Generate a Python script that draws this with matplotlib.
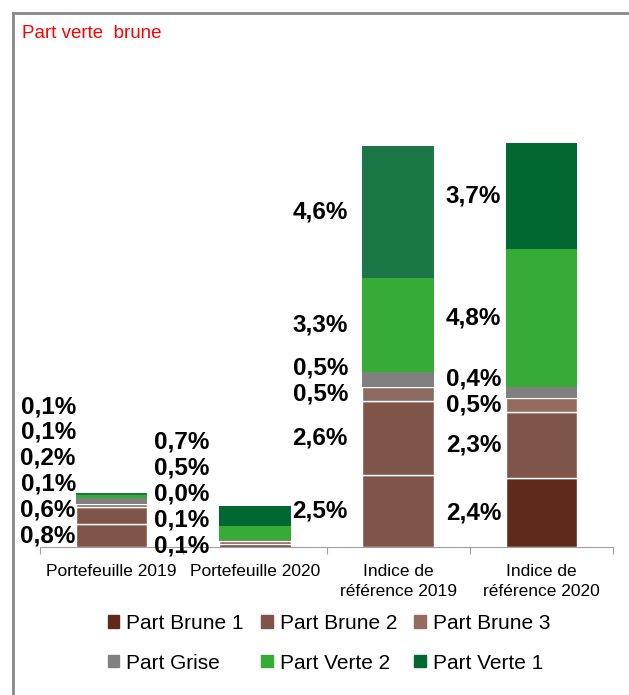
import numpy as np
import matplotlib
matplotlib.use("Agg")
import matplotlib.pyplot as plt
from matplotlib.lines import Line2D
from matplotlib.patches import Patch

plt.rcParams["font.family"] = ["Liberation Sans", "DejaVu Sans"]

categories = ["Portefeuille 2019", "Portefeuille 2020", "Indice de\nréférence 2019", "Indice de\nréférence 2020"]
series = ["Part Brune 1", "Part Brune 2", "Part Brune 3", "Part Grise", "Part Verte 2", "Part Verte 1"]

brune1 = [0.8, 0.1, 2.5, 2.4]
brune2 = [0.6, 0.1, 2.6, 2.3]
brune3 = [0.1, 0.0, 0.5, 0.5]
grise = [0.2, 0.03, 0.5, 0.4]
verte2 = [0.1, 0.5, 3.3, 4.8]
verte1 = [0.1, 0.7, 4.6, 3.7]

values = np.array([brune1, brune2, brune3, grise, verte2, verte1])

legend_colors = ["#5f2a1a", "#7f5549", "#936b5f", "#808080", "#36ab35", "#006830"]
# 2019 bars are drawn with slightly different shades in the source
colors_2019 = ["#7f5549", "#7f5549", "#8c6a60", "#808080", "#36ab35", "#1c7747"]
bar_colors = [colors_2019, legend_colors, colors_2019, legend_colors]
label_gap = [0.0, 0.07, 0.1, 0.03]

fig = plt.figure(figsize=(6.29, 6.95), dpi=100)
ax = fig.add_axes([40 / 629, 148 / 695, 573 / 629, 507 / 695])

x = np.arange(len(categories))
width = 0.5
bottoms = np.zeros(len(categories))
for i in range(len(series)):
    for j in range(len(categories)):
        edge = "white" if i < 3 else "none"
        ax.bar(x[j], values[i, j], width, bottom=bottoms[j], color=bar_colors[j][i],
               edgecolor=edge, linewidth=1.0)
    bottoms += values[i]

# labels left of each bar, spread so they do not overlap
min_gap = 0.9
for j in range(len(categories)):
    last = -10
    base = 0
    for i in range(len(series)):
        v = values[i, j]
        center = base + v / 2
        base += v
        if v == 0:
            continue
        y = max(center, last + min_gap)
        last = y
        txt = f"{v:.1f}".replace(".", ",") + "%"
        ax.text(x[j] - width / 2 - label_gap[j], y, txt, ha="right", va="center",
                fontsize=17.5, fontweight="bold", color="black")

ax.set_xlim(-0.5, 3.5)
ax.set_ylim(0, 17.7)
ax.set_yticks([])
for s in ["top", "right", "left"]:
    ax.spines[s].set_visible(False)
ax.spines["bottom"].set_color("#a0a0a0")
ax.set_xticks(np.arange(-0.5, 4, 1))
ax.set_xticklabels([])
ax.tick_params(axis="x", length=5, color="#a0a0a0")
for j, c in enumerate(categories):
    ax.text(x[j], -0.58, c, ha="center", va="top", fontsize=12.5, linespacing=1.45)

fig.text(22 / 629, 1 - 33 / 695, "Part verte  brune", color="red", fontsize=13.5,
         ha="left", va="center")

# outer frame
fig.add_artist(Line2D([13 / 629, 13 / 629], [0, 1 - 13 / 695], color="#878787", lw=2))
fig.add_artist(Line2D([13 / 629, 1], [1 - 13 / 695, 1 - 13 / 695], color="#878787", lw=2))

order = [0, 3, 1, 4, 2, 5]
handles = [Patch(color=legend_colors[k]) for k in order]
labels = [series[k] for k in order]
fig.legend(handles, labels, ncol=3, frameon=False, loc="upper left",
           bbox_to_anchor=(89 / 629, 1 - 595 / 695), fontsize=15,
           handlelength=0.55, handleheight=0.55, handletextpad=0.35,
           columnspacing=0.82, labelspacing=1.0)

fig.savefig("out.png", dpi=100)
